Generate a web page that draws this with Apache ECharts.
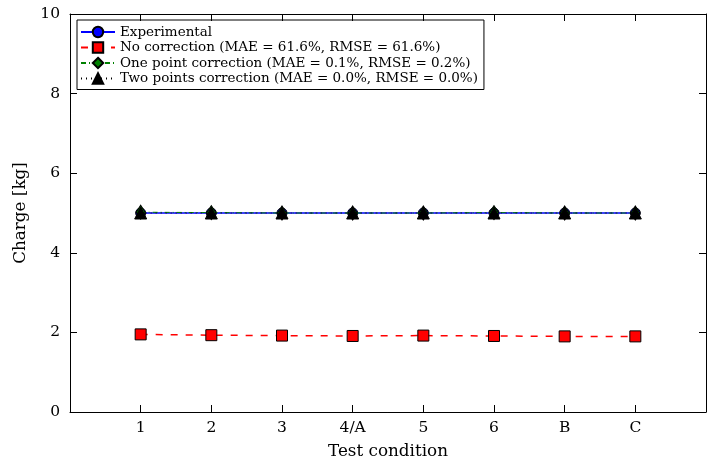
<!DOCTYPE html>
<html>
<head>
<meta charset="utf-8">
<script src="https://cdn.jsdelivr.net/npm/echarts@6/dist/echarts.min.js"></script>
<style>
  html, body { margin: 0; padding: 0; background: #fff; overflow: hidden; }
  #main { width: 707px; height: 462px; }
</style>
</head>
<body>
<div id="main"></div>
<script>
// test conditions shown on the x axis (placed at 1..8)
var categories = ["1", "2", "3", "4/A", "5", "6", "B", "C"];
var experimental = [5.0, 5.0, 5.0, 5.0, 5.0, 5.0, 5.0, 5.0];
var noCorrection = [1.95, 1.93, 1.92, 1.91, 1.92, 1.91, 1.90, 1.90];
var onePoint = [5.02, 5.01, 5.0, 5.0, 5.0, 5.01, 5.0, 5.0];
var twoPoints = [5.0, 5.0, 5.0, 5.0, 5.0, 5.0, 5.0, 5.0];
var yTicks = [0, 2, 4, 6, 8, 10];

var FONT = "DejaVu Serif";

function pairs(arr) {
  return arr.map(function (v, i) { return [i + 1, v]; });
}

var chart = echarts.init(document.getElementById("main"));

// matplotlib-like frame: black line, ticks pointing inward
function frameAxis(extra) {
  return Object.assign({
    axisLine: { show: true, onZero: false, lineStyle: { color: "#000", width: 1 } },
    axisTick: { show: true, inside: true, length: 7, lineStyle: { color: "#000" } },
    splitLine: { show: false }
  }, extra);
}

var option = {
  animation: false,
  textStyle: { fontFamily: FONT },
  grid: { left: 70, right: 1, top: 14, bottom: 50, containLabel: false, outerBoundsMode: "none" },
  legend: {
    orient: "vertical",
    left: 77,
    top: 20,
    padding: [5, 6, 4, 3],
    itemGap: 1.5,
    itemWidth: 34,
    itemHeight: 13,
    borderColor: "#000",
    borderWidth: 1,
    borderRadius: 0,
    textStyle: { fontFamily: FONT, fontSize: 13.5, color: "#000" },
    data: [
      "Experimental",
      "No correction (MAE = 61.6%, RMSE = 61.6%)",
      "One point correction (MAE = 0.1%, RMSE = 0.2%)",
      "Two points correction (MAE = 0.0%, RMSE = 0.0%)"
    ]
  },
  xAxis: [
    frameAxis({
      type: "value",
      min: 0,
      max: 9,
      interval: 1,
      name: "Test condition",
      nameLocation: "middle",
      nameGap: 31,
      nameTextStyle: { fontFamily: FONT, fontSize: 16.8, color: "#000" },
      axisLabel: {
        fontFamily: FONT, fontSize: 15.5, color: "#000", margin: 8,
        formatter: function (v) { return categories[v - 1] || ""; }
      }
    }),
    frameAxis({
      type: "value",
      position: "top",
      min: 0,
      max: 9,
      interval: 1,
      axisLabel: { show: false }
    })
  ],
  yAxis: [
    frameAxis({
      type: "value",
      min: 0,
      max: 10,
      interval: 2,
      name: "Charge [kg]",
      nameLocation: "middle",
      nameGap: 36,
      nameTextStyle: { fontFamily: FONT, fontSize: 16.8, color: "#000" },
      axisLabel: {
        fontFamily: FONT, fontSize: 15.5, color: "#000", margin: 10,
        formatter: function (v) { return yTicks.indexOf(v) >= 0 ? String(v) : ""; }
      }
    }),
    frameAxis({
      type: "value",
      position: "right",
      min: 0,
      max: 10,
      interval: 2,
      axisLabel: { show: false }
    })
  ],
  series: [
    {
      name: "Experimental",
      type: "line",
      data: pairs(experimental),
      symbol: "circle",
      symbolSize: 10,
      lineStyle: { color: "#0000ff", width: 1.5, type: "solid" },
      itemStyle: { color: "#0000ff", borderColor: "#000", borderWidth: 1 },
      z: 2
    },
    {
      name: "No correction (MAE = 61.6%, RMSE = 61.6%)",
      type: "line",
      data: pairs(noCorrection),
      symbol: "rect",
      symbolSize: 11,
      lineStyle: { color: "#ff0000", width: 1.5, type: [7, 8] },
      itemStyle: { color: "#ff0000", borderColor: "#000", borderWidth: 1 },
      z: 3
    },
    {
      name: "One point correction (MAE = 0.1%, RMSE = 0.2%)",
      type: "line",
      data: pairs(onePoint),
      symbol: "diamond",
      symbolSize: [9, 14],
      lineStyle: { color: "#008000", width: 1, type: [5, 3, 1, 3] },
      itemStyle: { color: "#008000", borderColor: "#000", borderWidth: 1 },
      z: 4
    },
    {
      name: "Two points correction (MAE = 0.0%, RMSE = 0.0%)",
      type: "line",
      data: pairs(twoPoints),
      symbol: "triangle",
      symbolSize: 12,
      lineStyle: { color: "#000", width: 1, type: [1, 4] },
      itemStyle: { color: "#000", borderColor: "#000", borderWidth: 1 },
      z: 5
    }
  ]
};

chart.setOption(option);
</script>
</body>
</html>
